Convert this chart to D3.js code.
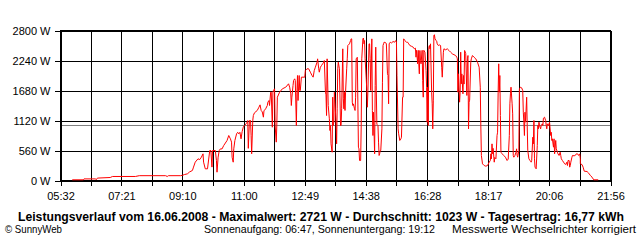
<!DOCTYPE html>
<html><head><meta charset="utf-8">
<script src="https://cdn.jsdelivr.net/npm/d3@7"></script>
<style>
html,body{margin:0;padding:0;background:#fff;}
svg{display:block;}
text{font-family:"Liberation Sans",Arial,sans-serif;fill:#000;}
</style></head>
<body>
<script>
// ---- data (time in minutes after midnight, power in W) ----
const xTickLabels = ["05:32","07:21","09:10","11:00","12:49","14:38","16:28","18:17","20:06","21:56"];
const yTicks = [0, 560, 1120, 1680, 2240, 2800];
const averageW = 1023;
const titleText = "Leistungsverlauf vom 16.06.2008 - Maximalwert: 2721 W - Durchschnitt: 1023 W - Tagesertrag: 16,77 kWh";
const footLeft = "\u00A9 SunnyWeb";
const footMid = "Sonnenaufgang: 06:47, Sonnenuntergang: 19:12";
const footRight = "Messwerte Wechselrichter korrigiert";

const seriesDawn = [[353,13],[373,13],[374,30],[395,30],[396,15],[398,45],[421,56],[425,75],[466,75],[473,90],[520,90],[523,75],[525,90],[547,90],[551,100]];
const seriesRise = [[554,112],[559,124],[563,160],[568,187],[570,250],[573,342],[578,405],[581,390],[584,435],[587,498],[588,342],[591,218],[595,218],[599,560],[601,560],[603,250],[604,560],[609,560],[611,373],[612,155],[614,435],[616,560],[618,590],[621,590],[624,653],[630,747],[633,840]];
const seriesLateMorning = [[636,778],[638,716],[639,435],[641,342],[642,591],[644,747],[647,871],[649,900],[651,871],[653,900],[655,778],[657,915],[659,995],[661,1027],[664,1058],[666,1090],[667,1120],[668,600],[670,1120],[672,1120],[673,840],[674,498],[676,1120],[677,1213],[679,1263],[684,1307],[687,1368],[689,1412],[691,1307],[693,1280],[695,1182],[696,1300],[699,1338],[702,1400],[703,1462],[705,1493],[706,1400],[708,1648],[709,1648],[711,995],[712,1648],[713,1680],[715,1712],[716,1027],[718,716],[719,1027],[720,1555],[724,1648],[729,1712],[735,1742],[740,1805],[742,1742],[744,1618],[745,1400],[746,1555],[748,1773],[749,1867],[751,1898],[752,1867],[754,1027],[755,1648],[756,1960],[757,1493],[759,1960],[760,1680],[761,1680]];
const seriesNoon = [[763,1929],[769,1929],[770,2053],[773,2085],[776,2085],[779,2022],[782,1960],[784,1929],[786,2053],[788,2115],[791,2209],[792,2271],[794,2085],[795,2022],[797,2115],[799,2147],[801,2178],[803,2209],[804,2240],[806,1648],[807,1600],[808,1213],[809,2271],[811,1400],[813,1151],[814,933],[815,1027],[816,684],[818,528],[819,1555],[820,1027],[821,1089],[822,1648],[823,1462],[825,1089],[826,684],[827,1338],[828,2085],[829,2209],[831,2085],[833,1027],[834,1027],[835,1338],[837,2458],[838,1525],[839,1338],[840,1648],[841,1307],[842,1648],[844,2085],[845,2271],[846,2520],[849,2551],[851,2613],[852,2644],[853,2644],[854,1462],[855,1400],[856,1430],[858,1338],[859,1307],[860,1555],[861,2271],[863,2300],[865,622],[866,591],[867,373],[869,373],[870,1027],[871,2271],[873,2644],[874,2660],[875,2551],[876,2613],[877,2271],[879,1898],[880,1680],[881,1368],[882,1680],[884,2551],[885,2551],[886,2271],[887,1680]];
const seriesAfternoon = [[889,2644],[890,1307],[891,840],[892,1275],[894,498],[895,1773],[896,2489],[897,1680],[898,1050],[900,1027],[901,716],[902,467],[903,500],[904,560],[905,560],[907,964],[908,1835],[909,2520],[910,2551],[911,2582],[914,2570],[915,2551],[917,1991],[918,1960],[919,1431],[920,2551],[922,2582],[924,2567],[927,2594],[930,2582],[932,2613],[933,2600],[934,1960],[936,964],[937,871],[939,747],[941,778],[942,808],[944,1555],[945,1555],[946,2644],[948,2613],[951,2582],[953,2582],[955,2551],[957,2520],[960,2505],[963,2489],[965,2458],[967,2470],[968,2302],[969,2430],[971,2178],[972,2430],[973,2178],[974,1991],[975,2427],[976,2240],[977,2178],[979,2430],[980,1867],[981,1555],[982,2430],[984,2395],[986,2053],[987,1742],[988,1089],[989,1742],[990,1027],[991,2489],[992,2520],[993,2458],[994,2551],[996,1648],[997,1431],[998,964],[999,1500],[1000,2707],[1001,2721],[1002,2644],[1004,2613],[1005,2600],[1006,2551],[1008,2520],[1010,2530],[1012,2520]];
const seriesLateAfternoon = [[1014,2115],[1015,1929],[1017,2395],[1018,2458],[1021,2440],[1024,2458],[1027,2427],[1030,2395],[1033,2364],[1036,2348],[1039,2333],[1041,2302],[1042,2271],[1043,1648],[1044,1991],[1046,1462],[1047,1648],[1048,2395],[1049,1804],[1050,1990],[1052,1618],[1053,1960],[1054,1800],[1055,2427],[1057,2370],[1059,1587],[1060,2271],[1061,2333],[1062,964],[1063,1462],[1064,1500],[1066,2209],[1067,2271],[1069,2333],[1072,2300],[1075,2271],[1078,2209],[1081,2115],[1083,1742],[1084,1027],[1085,467],[1087,311],[1090,280],[1093,267],[1096,280],[1099,342],[1101,373],[1102,498],[1103,405],[1104,684],[1105,498],[1106,600],[1108,342],[1109,430],[1111,405],[1113,840],[1114,902],[1115,1648],[1116,2178],[1117,1648],[1118,1960],[1119,1213],[1120,528],[1122,500],[1125,467],[1128,435],[1131,373],[1133,400],[1135,840],[1136,1431],[1137,1618]];
const seriesEvening = [[1138,1742],[1140,1431],[1141,1244],[1142,467],[1143,435],[1145,467],[1147,528],[1148,591],[1149,467],[1150,435],[1152,560],[1153,1712],[1155,1742],[1157,1730],[1159,1680],[1160,1275],[1161,1089],[1162,840],[1163,1275],[1164,1089],[1166,1555],[1167,1027],[1168,560],[1170,405],[1172,373],[1173,360],[1174,342],[1175,373],[1177,808],[1178,684],[1179,1120],[1180,405],[1181,249],[1183,218],[1185,653],[1186,1027],[1187,964],[1188,1089],[1189,1027],[1191,964],[1192,1027],[1194,1058],[1195,1027],[1196,1163],[1198,1182],[1200,1120],[1201,1027],[1202,964],[1203,1058],[1205,1027],[1207,1089],[1209,840],[1210,900],[1211,747],[1212,778],[1214,622],[1215,778],[1216,498],[1218,747],[1219,591],[1221,528],[1222,498],[1224,467],[1226,528],[1227,467],[1228,405],[1230,373],[1232,342],[1234,311],[1236,300],[1238,342],[1239,280],[1240,373],[1242,373],[1243,249],[1244,280],[1245,342],[1247,435],[1248,467],[1251,460],[1254,479],[1255,498],[1257,498],[1259,467],[1261,498]];
const seriesDusk = [[1262,405],[1262,311],[1265,298],[1267,249],[1269,174],[1274,168],[1277,137],[1280,93],[1283,62],[1286,13],[1294,13]];

// ---- layout ----
const W = 640, H = 240;
const plot = {left: 60, right: 610, top: 30, bottom: 180};
const toMin = s => { const [h, m] = s.split(":").map(Number); return h * 60 + m; };
const tickMins = xTickLabels.map(toMin);

const x = d3.scaleLinear().domain([tickMins[0], tickMins[tickMins.length - 1]]).range([plot.left, plot.right]);
const y = d3.scaleLinear().domain([0, 2800]).range([plot.bottom, plot.top]);

const svg = d3.select("body").append("svg").attr("width", W).attr("height", H);

// vertical gridlines: label ticks plus midpoints
const gridMins = [];
tickMins.forEach((t, i) => { gridMins.push(t); if (i < tickMins.length - 1) gridMins.push((t + tickMins[i + 1]) / 2); });

const px = v => Math.round(v) + 0.5;
const g = svg.append("g").attr("shape-rendering", "crispEdges");

// x axis with d3 axis (ticks downward, gridlines)
const xAxis = d3.axisBottom(x).tickValues(gridMins).tickSize(6).tickFormat(() => "");
const xg = svg.append("g").attr("transform", `translate(0.5,${plot.bottom + 0.5})`).call(xAxis);
xg.select(".domain").remove();
xg.selectAll("line").attr("stroke", "#000").attr("shape-rendering", "crispEdges")
  .attr("y1", -(plot.bottom - plot.top)).attr("y2", 5);
xg.selectAll("line").attr("transform", function() {
  return null;
});
// labels
svg.append("g").selectAll("text").data(tickMins).join("text")
  .attr("x", d => x(d) + 1).attr("y", 200)
  .attr("text-anchor", "middle").attr("font-size", "11px")
  .text((d, i) => xTickLabels[i]);

// y axis
const yAxis = d3.axisLeft(y).tickValues(yTicks).tickSize(6).tickFormat(d => d + " W");
const yg = svg.append("g").attr("transform", `translate(${plot.left + 0.5},0.5)`).call(yAxis);
yg.select(".domain").remove();
yg.selectAll("line").attr("stroke", "#000").attr("shape-rendering", "crispEdges")
  .attr("x1", 0).attr("x2", -6)
  .clone().attr("x1", 0).attr("x2", plot.right - plot.left);
yg.selectAll("text").attr("font-size", "11px").attr("font-family", "Liberation Sans, Arial, sans-serif")
  .attr("x", -10).attr("dy", "0.35em").attr("fill", "#000");

// frame
g.append("rect").attr("x", plot.left + 0.5).attr("y", plot.top + 0.5)
  .attr("width", plot.right - plot.left).attr("height", plot.bottom - plot.top)
  .attr("fill", "none").attr("stroke", "#000");

// average line
g.append("line").attr("x1", plot.left + 1).attr("x2", plot.right)
  .attr("y1", px(y(averageW))).attr("y2", px(y(averageW)))
  .attr("stroke", "#808080");

// power curve
const allData = [].concat(seriesDawn, seriesRise, seriesLateMorning, seriesNoon, seriesAfternoon, seriesLateAfternoon, seriesEvening, seriesDusk);
const line = d3.line().x(d => x(d[0]) + 0.5).y(d => y(d[1]) + 0.5);
svg.append("path").datum(allData).attr("d", line)
  .attr("fill", "none").attr("stroke", "#ff0000").attr("stroke-width", 1)
  .attr("stroke-linejoin", "miter");

// title and footer
svg.append("text").attr("x", 321).attr("y", 221).attr("text-anchor", "middle")
  .attr("font-size", "12px").attr("font-weight", "bold")
  .attr("textLength", 606).attr("lengthAdjust", "spacingAndGlyphs").text(titleText);
svg.append("text").attr("x", 5).attr("y", 233).attr("font-size", "11px")
  .attr("textLength", 57).attr("lengthAdjust", "spacingAndGlyphs").text(footLeft);
svg.append("text").attr("x", 204).attr("y", 233).attr("font-size", "11px")
  .attr("textLength", 231).attr("lengthAdjust", "spacingAndGlyphs").text(footMid);
svg.append("text").attr("x", 452).attr("y", 233).attr("font-size", "11px")
  .attr("textLength", 184).attr("lengthAdjust", "spacingAndGlyphs").text(footRight);
</script>
</body></html>
